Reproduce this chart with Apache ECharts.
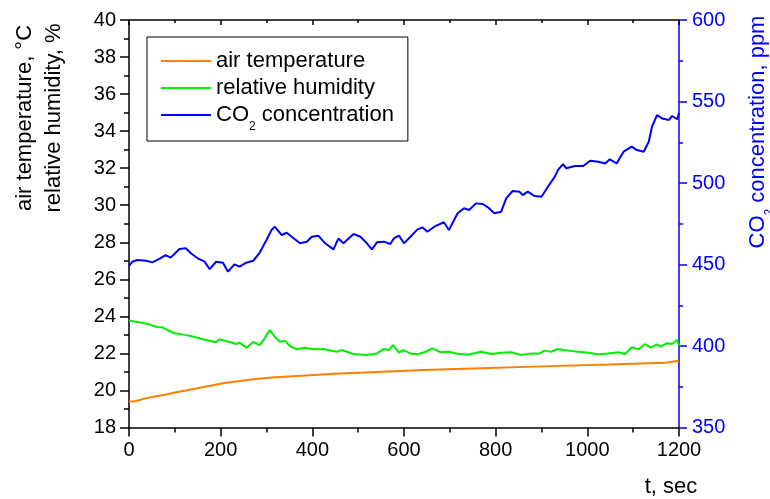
<!DOCTYPE html>
<html><head><meta charset="utf-8">
<script src="https://cdn.jsdelivr.net/npm/echarts@6/dist/echarts.min.js"></script>
<style>html,body{margin:0;padding:0;background:#fff}#c{width:770px;height:499px}</style>
</head><body><div id="c"></div>
<script>
// ---- data ----
const tempTime = [0,11,25,40,62,84,102,124,146,165,186,208,238,271,311,377,446,541,643,768,903,1046,1170,1200];
const tempValues = [19.4,19.5,19.6,19.7,19.8,19.9,20.0,20.1,20.2,20.3,20.4,20.5,20.6,20.7,20.8,20.9,21.0,21.1,21.2,21.3,21.4,21.5,21.6,21.6];

const rhTime = [0,22,44,62,73,95,121,135,161,190,197,219,234,241,256,271,285,296,307,318,329,340,351,366,384,402,424,453,464,490,519,541,556,567,576,589,598,614,629,647,662,680,698,713,739,768,790,812,834,856,878,896,907,921,936,958,980,1002,1024,1046,1068,1082,1097,1112,1126,1138,1152,1160,1174,1185,1196,1200];
const rhValues = [23.77,23.68,23.57,23.41,23.41,23.12,23.0,22.94,22.76,22.6,22.76,22.62,22.51,22.58,22.31,22.62,22.45,22.82,23.26,22.9,22.63,22.69,22.4,22.22,22.31,22.22,22.24,22.09,22.18,21.97,21.91,22.0,22.24,22.18,22.45,22.04,22.18,22.0,21.95,22.09,22.27,22.06,22.09,22.0,21.93,22.09,21.97,22.04,22.06,21.91,22.0,22.0,22.15,22.09,22.24,22.15,22.09,22.04,21.95,22.0,22.06,21.97,22.33,22.22,22.51,22.31,22.49,22.36,22.55,22.51,22.72,22.4];

const co2Time = [0,7,18,37,51,66,80,91,110,124,135,150,165,176,190,205,216,230,241,256,271,285,300,311,318,333,344,355,373,388,399,413,428,446,457,468,490,505,519,530,541,556,570,578,589,600,614,629,640,651,666,687,698,717,731,742,757,772,783,797,812,823,837,852,859,870,885,900,914,929,936,947,954,973,991,1006,1024,1039,1049,1064,1079,1097,1108,1123,1134,1141,1152,1163,1178,1185,1196,1200];
const co2Values = [449,451.7,452.8,452.3,451.3,453.4,455.8,454.2,459.5,460,456.9,453.8,451.7,447.2,451.7,451.1,445.6,450.1,448.7,451.1,452.3,457.2,465,471.2,473.2,468.1,469.5,467,463,464,467,467.7,463,459.3,466,463,468.7,467,463,459.3,463.6,464,462.6,466,467.7,463,467,471.4,472.8,470.1,473.2,475.9,471.2,481.4,484.5,483.4,487.5,487.1,485.1,481.4,482.4,490.6,495.1,494.7,492.6,494.7,492,491.6,497.7,503.9,508,511.6,509,510.4,510.4,513.7,513,512,514.5,512,519.2,522.3,520.2,519.2,525.3,534.5,541.7,539.6,538.7,541.1,539.1,543];

const leftTicks = {min: 18, max: 40, interval: 2};
const rightTicks = {min: 350, max: 600, interval: 50};
const xTicks = {min: 0, max: 1200, interval: 200};

const seriesNames = ['air temperature', 'relative humidity', 'CO2 concentration'];
const colors = ['#ff8000', '#00ee00', '#0000ff'];

const zip = (a, b) => a.map((t, i) => [t, b[i]]);
const FONT = "'Liberation Sans', Arial, sans-serif";
const plain = v => String(v);

const chart = echarts.init(document.getElementById('c'), null, {renderer: 'canvas'});
const blk = '#000';
chart.setOption({
  animation: false,
  backgroundColor: '#fff',
  grid: {left: 129, right: 91, top: 20, bottom: 71.5, containLabel: false},
  legend: {
    data: seriesNames,
    orient: 'vertical',
    left: 147, top: 37,
    padding: [6, 14, 8, 14],
    itemGap: -9,
    itemWidth: 50, itemHeight: 2,
    icon: 'rect',
    borderColor: '#000', borderWidth: 1, backgroundColor: '#fff',
    formatter: n => n === 'CO2 concentration' ? '{a|CO}{s|2}{a| concentration}' : n,
    textStyle: {
      fontSize: 22, fontFamily: FONT, color: '#000', lineHeight: 36,
      rich: {
        a: {fontSize: 22, fontFamily: FONT, color: '#000', lineHeight: 36},
        s: {fontSize: 12, fontFamily: FONT, color: '#000', lineHeight: 12, verticalAlign: 'bottom'}
      }
    }
  },
  xAxis: [{
    type: 'value', min: xTicks.min, max: xTicks.max, interval: xTicks.interval, position: 'bottom',
    axisLine: {onZero: false, lineStyle: {color: blk, width: 1.5}},
    axisTick: {inside: false, length: 9, lineStyle: {color: blk, width: 1.5}},
    minorTick: {show: true, splitNumber: 2, length: 5, lineStyle: {color: blk, width: 1.5}},
    axisLabel: {fontSize: 20, fontFamily: FONT, color: blk, margin: 13, formatter: plain},
    splitLine: {show: false}
  }, {
    type: 'value', min: xTicks.min, max: xTicks.max, interval: xTicks.interval, position: 'top',
    axisLine: {onZero: false, lineStyle: {color: blk, width: 1.5}},
    axisTick: {inside: true, length: 5, lineStyle: {color: blk, width: 1.5}},
    minorTick: {show: true, splitNumber: 2, length: 3, lineStyle: {color: blk, width: 1.5}},
    axisLabel: {show: false},
    splitLine: {show: false}
  }],
  yAxis: [{
    type: 'value', min: leftTicks.min, max: leftTicks.max, interval: leftTicks.interval, position: 'left',
    axisLine: {show: true, onZero: false, lineStyle: {color: blk, width: 1.5}},
    axisTick: {show: true, inside: false, length: 9, lineStyle: {color: blk, width: 1.5}},
    minorTick: {show: true, splitNumber: 2, length: 5, lineStyle: {color: blk, width: 1.5}},
    axisLabel: {fontSize: 20, fontFamily: FONT, color: blk, margin: 13, formatter: plain},
    splitLine: {show: false}
  }, {
    type: 'value', min: rightTicks.min, max: rightTicks.max, interval: rightTicks.interval, position: 'right',
    axisLine: {show: true, onZero: false, lineStyle: {color: '#0000ff', width: 1.5}},
    axisTick: {show: true, inside: false, length: 8, lineStyle: {color: '#0000ff', width: 1.5}},
    minorTick: {show: true, splitNumber: 2, length: 4, lineStyle: {color: '#0000ff', width: 1.5}},
    axisLabel: {fontSize: 20, fontFamily: FONT, color: '#0000ff', margin: 13, formatter: plain},
    splitLine: {show: false}
  }],
  series: [{
    name: seriesNames[0], type: 'line', step: 'end', yAxisIndex: 0, xAxisIndex: 0,
    data: zip(tempTime, tempValues), showSymbol: false, symbol: 'none',
    lineStyle: {color: colors[0], width: 2}, itemStyle: {color: colors[0]}
  }, {
    name: seriesNames[1], type: 'line', yAxisIndex: 0, xAxisIndex: 0,
    data: zip(rhTime, rhValues), showSymbol: false, symbol: 'none',
    lineStyle: {color: colors[1], width: 2}, itemStyle: {color: colors[1]}
  }, {
    name: seriesNames[2], type: 'line', yAxisIndex: 1, xAxisIndex: 0,
    data: zip(co2Time, co2Values), showSymbol: false, symbol: 'none',
    lineStyle: {color: colors[2], width: 2}, itemStyle: {color: colors[2]}
  }],
  graphic: [{
    type: 'text', x: 39.5, y: 118, rotation: Math.PI / 2,
    style: {text: 'air temperature, °C\nrelative humidity, %', fontSize: 22, fontFamily: FONT,
      fill: '#000', align: 'center', verticalAlign: 'middle', lineHeight: 29}
  }, {
    type: 'text', x: 758, y: 132, rotation: Math.PI / 2,
    style: {text: '{a|CO}{s|2}{a| concentration, ppm}', fontSize: 22, fontFamily: FONT,
      fill: '#0000ff', align: 'center', verticalAlign: 'middle',
      rich: {
        a: {fontSize: 22, fontFamily: FONT, fill: '#0000ff', lineHeight: 36},
        s: {fontSize: 12, fontFamily: FONT, fill: '#0000ff', lineHeight: 12, verticalAlign: 'bottom'}
      }}
  }, {
    type: 'text', x: 671, y: 487,
    style: {text: 't, sec', fontSize: 22, fontFamily: FONT, fill: '#000', align: 'center', verticalAlign: 'middle'}
  }]
});
</script>
</body></html>
